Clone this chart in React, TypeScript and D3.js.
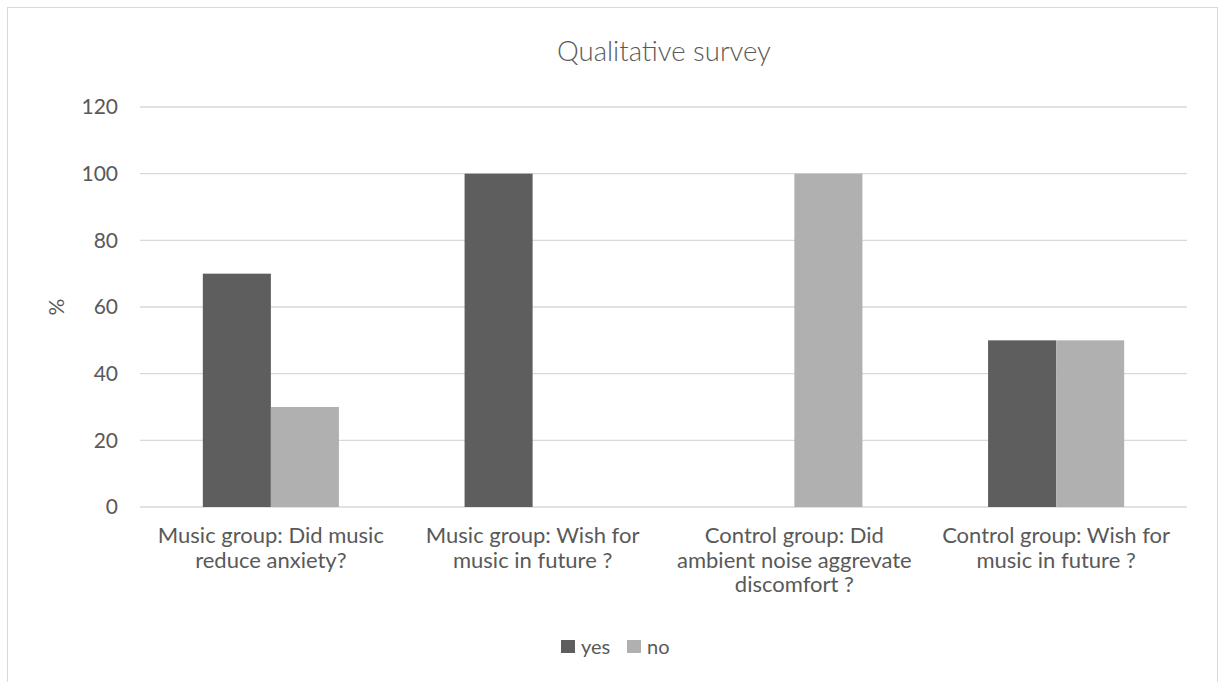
import { useEffect, useRef } from 'react'
import * as d3 from 'd3'

const categories = [
  ['Music group: Did music', 'reduce anxiety?'],
  ['Music group: Wish for', 'music in future ?'],
  ['Control group: Did', 'ambient noise aggrevate', 'discomfort ?'],
  ['Control group: Wish for', 'music in future ?'],
]
const seriesNames = ['yes', 'no']
const yesValues = [70, 100, 0, 50]
const noValues = [30, 0, 100, 50]
const yTicks = [0, 20, 40, 60, 80, 100, 120]

const colors = ['#5e5e5e', '#b0b0b0']
const font = 'Lato, sans-serif'

export default function App() {
  const ref = useRef<SVGSVGElement>(null)

  useEffect(() => {
    if (!ref.current) return
    const svg = d3.select(ref.current)
    svg.selectAll('*').remove()

    svg.append('rect')
      .attr('x', 7.5).attr('y', 7.5)
      .attr('width', 1210).attr('height', 690)
      .attr('fill', 'white')
      .attr('stroke', '#d9d9d9')

    const left = 140
    const right = 1187
    const top = 107
    const bottom = 507

    const y = d3.scaleLinear().domain([0, 120]).range([bottom, top])
    const idx = categories.map((_, i) => String(i))
    const x0 = d3.scaleBand().domain(idx).range([left, right]).paddingInner(0.48).paddingOuter(0.24)
    const x1 = d3.scaleBand().domain(seriesNames).range([0, x0.bandwidth()])

    // gridlines
    svg.append('g')
      .selectAll('line')
      .data(yTicks)
      .enter()
      .append('line')
      .attr('x1', left).attr('x2', right)
      .attr('y1', d => y(d)).attr('y2', d => y(d))
      .attr('stroke', '#d9d9d9')
      .attr('stroke-width', 1.3)

    // tick labels
    svg.append('g')
      .selectAll('text')
      .data(yTicks)
      .enter()
      .append('text')
      .attr('x', 118)
      .attr('y', d => y(d))
      .attr('dy', '0.35em')
      .attr('text-anchor', 'end')
      .attr('fill', '#595959')
      .style('font-family', font)
      .style('font-size', '21px')
      .text(d => d)

    // bars
    const series = [yesValues, noValues]
    series.forEach((vals, s) => {
      svg.append('g')
        .selectAll('rect')
        .data(vals)
        .enter()
        .append('rect')
        .attr('x', (_, i) => (x0(String(i)) || 0) + (x1(seriesNames[s]) || 0))
        .attr('y', d => y(d))
        .attr('width', x1.bandwidth())
        .attr('height', d => y(0) - y(d))
        .attr('fill', colors[s])
    })

    // category labels
    const cat = svg.append('g')
    categories.forEach((lines, i) => {
      const cx = (x0(String(i)) || 0) + x0.bandwidth() / 2
      const t = cat.append('text')
        .attr('text-anchor', 'middle')
        .attr('fill', '#595959')
        .style('font-family', font)
        .style('font-size', '22px')
      lines.forEach((l, j) => {
        t.append('tspan').attr('x', cx).attr('y', 543 + j * 24.5).text(l)
      })
    })

    // title
    svg.append('text')
      .attr('x', 664).attr('y', 61)
      .attr('text-anchor', 'middle')
      .attr('fill', '#595959')
      .style('font-family', font)
      .style('font-weight', 300)
      .style('font-size', '27.5px')
      .text('Qualitative survey')

    // y axis title
    svg.append('text')
      .attr('transform', `translate(64, ${(top + bottom) / 2}) rotate(-90)`)
      .attr('text-anchor', 'middle')
      .attr('fill', '#595959')
      .style('font-family', font)
      .style('font-size', '21px')
      .text('%')

    // legend
    const legend = svg.append('g')
    const lx = [561, 627]
    seriesNames.forEach((n, i) => {
      legend.append('rect')
        .attr('x', lx[i]).attr('y', 640)
        .attr('width', 14).attr('height', 13)
        .attr('fill', colors[i])
      legend.append('text')
        .attr('x', lx[i] + 20).attr('y', 647)
        .attr('dy', '0.35em')
        .attr('fill', '#595959')
        .style('font-family', font)
        .style('font-size', '20px')
        .text(n)
    })
  }, [])

  return <svg ref={ref} width={1219} height={682} style={{ position: 'absolute', left: 0, top: 0 }} />
}
